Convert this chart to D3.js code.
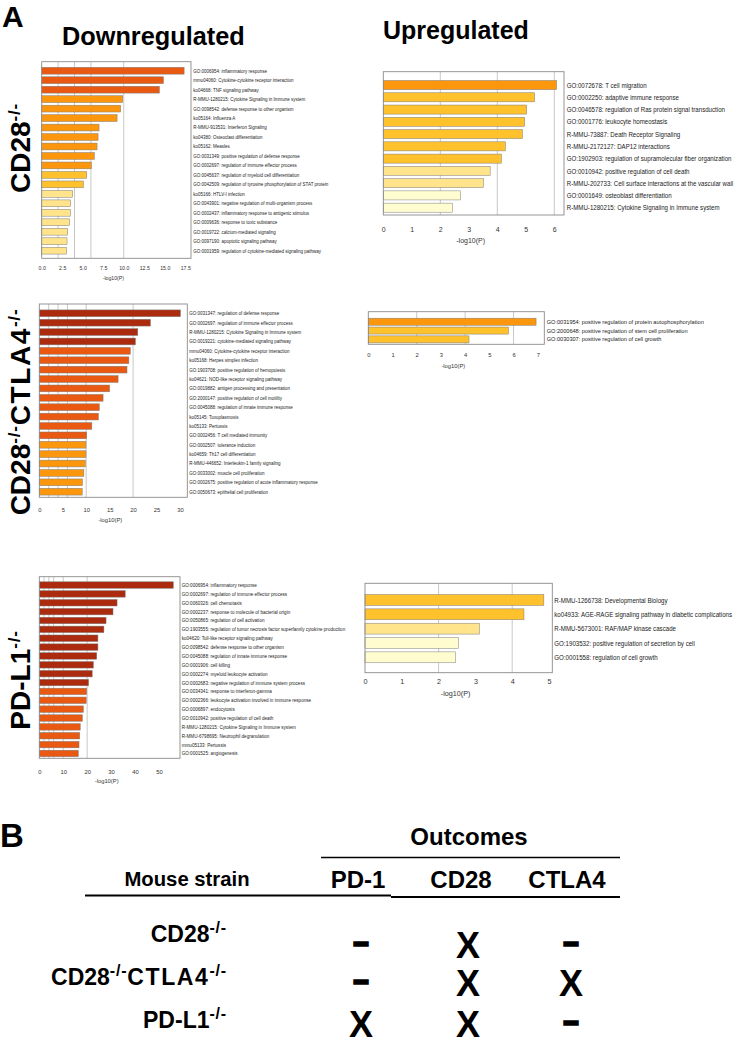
<!DOCTYPE html>
<html><head><meta charset="utf-8">
<script src="https://cdn.jsdelivr.net/npm/d3@7"></script>
<style>body{margin:0;background:#fff}svg{display:block}text{font-family:"Liberation Sans",Arial,Helvetica,sans-serif}</style>
</head><body><svg id="c" width="737" height="1039"></svg>
<script>
// ---------------- DATA ----------------
const cd28DownTerms = ["GO:0006954: inflammatory response","mmu04060: Cytokine-cytokine receptor interaction","ko04668: TNF signaling pathway","R-MMU-1280215: Cytokine Signaling in Immune system","GO:0098542: defense response to other organism","ko05164: Influenza A","R-MMU-913531: Interferon Signaling","ko04380: Osteoclast differentiation","ko05162: Measles","GO:0031349: positive regulation of defense response","GO:0002697: regulation of immune effector process","GO:0045637: regulation of myeloid cell differentiation","GO:0042509: regulation of tyrosine phosphorylation of STAT protein","ko05166: HTLV-I infection","GO:0043901: negative regulation of multi-organism process","GO:0002437: inflammatory response to antigenic stimulus","GO:0009636: response to toxic substance","GO:0019722: calcium-mediated signaling","GO:0097190: apoptotic signaling pathway","GO:0001959: regulation of cytokine-mediated signaling pathway"];
const cd28DownValues = [17.36,14.84,14.35,9.88,9.63,9.19,6.99,6.87,6.75,6.42,6.05,5.49,5.08,3.78,3.54,3.50,3.41,3.17,3.09,3.02];

const cd28UpTerms = ["GO:0072678: T cell migration","GO:0002250: adaptive immune response","GO:0046578: regulation of Ras protein signal transduction","GO:0001776: leukocyte homeostasis","R-MMU-73887: Death Receptor Signaling","R-MMU-2172127: DAP12 interactions","GO:1902903: regulation of supramolecular fiber organization","GO:0010942: positive regulation of cell death","R-MMU-202733: Cell surface interactions at the vascular wall","GO:0001649: osteoblast differentiation","R-MMU-1280215: Cytokine Signaling in Immune system"];
const cd28UpValues = [6.08,5.31,5.03,4.96,4.88,4.28,4.14,3.75,3.52,2.71,2.42];

const dkoDownTerms = ["GO:0031347: regulation of defense response","GO:0002697: regulation of immune effector process","R-MMU-1280215: Cytokine Signaling in Immune system","GO:0019221: cytokine-mediated signaling pathway","mmu04060: Cytokine-cytokine receptor interaction","ko05168: Herpes simplex infection","GO:1903708: positive regulation of hemopoiesis","ko04621: NOD-like receptor signaling pathway","GO:0019882: antigen processing and presentation","GO:2000147: positive regulation of cell motility","GO:0045088: regulation of innate immune response","ko05145: Toxoplasmosis","ko05133: Pertussis","GO:0002456: T cell mediated immunity","GO:0002507: tolerance induction","ko04659: Th17 cell differentiation","R-MMU-446652: Interleukin-1 family signaling","GO:0033002: muscle cell proliferation","GO:0002675: positive regulation of acute inflammatory response","GO:0050673: epithelial cell proliferation"];
const dkoDownValues = [30.1,23.7,21.0,20.5,19.4,19.1,18.7,16.8,15.0,13.6,12.8,12.6,11.2,10.1,9.95,9.95,9.8,9.5,9.2,9.15];

const dkoUpTerms = ["GO:0031954: positive regulation of protein autophosphorylation","GO:2000648: positive regulation of stem cell proliferation","GO:0030307: positive regulation of cell growth"];
const dkoUpValues = [6.93,5.79,4.16];

const pdl1DownTerms = ["GO:0006954: inflammatory response","GO:0002697: regulation of immune effector process","GO:0060326: cell chemotaxis","GO:0002237: response to molecule of bacterial origin","GO:0050865: regulation of cell activation","GO:1903555: regulation of tumor necrosis factor superfamily cytokine production","ko04620: Toll-like receptor signaling pathway","GO:0098542: defense response to other organism","GO:0045088: regulation of innate immune response","GO:0001906: cell killing","GO:0002274: myeloid leukocyte activation","GO:0002683: negative regulation of immune system process","GO:0034341: response to interferon-gamma","GO:0002366: leukocyte activation involved in immune response","GO:0006897: endocytosis","GO:0010942: positive regulation of cell death","R-MMU-1280215: Cytokine Signaling in Immune system","R-MMU-6798695: Neutrophil degranulation","mmu05133: Pertussis","GO:0001525: angiogenesis"];
const pdl1DownValues = [56.0,35.9,32.5,30.8,27.9,27.0,24.5,24.5,24.0,22.6,22.1,20.6,19.8,19.6,18.4,18.0,17.1,16.9,16.6,16.3];

const pdl1UpTerms = ["R-MMU-1266738: Developmental Biology","ko04933: AGE-RAGE signaling pathway in diabetic complications","R-MMU-5673001: RAF/MAP kinase cascade","GO:1903532: positive regulation of secretion by cell","GO:0001558: regulation of cell growth"];
const pdl1UpValues = [4.86,4.32,3.11,2.54,2.46];

const ticks1 = [0,2.5,5,7.5,10,12.5,15,17.5];
const ticks2 = [0,1,2,3,4,5,6];
const ticks3 = [0,5,10,15,20,25,30];
const ticks4 = [0,1,2,3,4,5,6,7];
const ticks5 = [0,10,20,30,40,50];
const ticks6 = [0,1,2,3,4,5];

const gridValues = [2,4,6,10,20];
const colorBreaks = [3,4,6,10,20];
const binColors = ["#FFFDD0","#FFE48C","#FFC12C","#FC970D","#EA5911","#AC2A0E"];

const strains = [[{t:"CD28"},{t:"-/-",sup:true}],[{t:"CD28"},{t:"-/-",sup:true},{t:"CTLA4",ls:1.6},{t:"-/-",sup:true}],[{t:"PD-L1"},{t:"-/-",sup:true}]];
const outcomes = ["PD-1","CD28","CTLA4"];
const marks = [["-","X","-"],["-","X","X"],["X","X","-"]];

// ---------------- DRAW ----------------
const svg = d3.select("#c");
const color = d3.scaleThreshold().domain(colorBreaks).range(binColors);

function rich(t, parts, supSize, rise){
  let up=false;
  parts.forEach(p=>{
    const s=t.append("tspan").text(p.t);
    if(p.ls) s.attr("letter-spacing",p.ls);
    if(p.sup){s.attr("font-size",supSize).attr("dy",-rise).attr("letter-spacing",0.8);up=true;}
    else if(up){s.attr("dy",rise);up=false;}
  });
}

const panels = [
 {terms:cd28DownTerms,values:cd28DownValues,x0:41.7,x1:191,y0:61.7,y1:258.3,max:18.2,b0:66,b1:255.4,pad:0.28,lx:193.3,ls:5.5,cond:0.82,ticks:ticks1,fmt:d3.format(".1f"),ts:5.2,ty:268.3,tty:277.7},
 {terms:cd28UpTerms,values:cd28UpValues,x0:383.3,x1:564,y0:71.7,y1:215,max:6.34,b0:78.9,b1:213.8,pad:0.26,lx:566.7,ls:7.5,cond:0.82,ticks:ticks2,fmt:d3.format("d"),ts:7,ty:229.5,tty:241},
 {terms:dkoDownTerms,values:dkoDownValues,x0:39.3,x1:187.3,y0:304,y1:497.3,max:31.56,b0:308.6,b1:496.4,pad:0.28,lx:189.3,ls:5.5,cond:0.82,ticks:ticks3,fmt:d3.format("d"),ts:5.8,ty:510,tty:520},
 {terms:dkoUpTerms,values:dkoUpValues,x0:368.3,x1:544.3,y0:311.7,y1:344.3,max:7.27,b0:317.3,b1:343.8,pad:0.2,lx:546.7,ls:5.6,cond:1,ticks:ticks4,fmt:d3.format("d"),ts:5.8,ty:355,tty:365.7},
 {terms:pdl1DownTerms,values:pdl1DownValues,x0:39.3,x1:180,y0:576.7,y1:758.3,max:58.8,b0:580.6,b1:757.9,pad:0.27,lx:181.7,ls:5.6,cond:0.82,ticks:ticks5,fmt:d3.format("d"),ts:5.8,ty:771.7,tty:781},
 {terms:pdl1UpTerms,values:pdl1UpValues,x0:365,x1:552.3,y0:583.3,y1:672.7,max:5.09,b0:592.8,b1:664.5,pad:0.24,lx:554.3,ls:7.5,cond:0.82,ticks:ticks6,fmt:d3.format("d"),ts:7.2,ty:681.7,tty:693}
];

panels.forEach(p=>{
  const g=svg.append("g");
  const x=d3.scaleLinear().domain([0,p.max]).range([p.x0,p.x1]);
  const y=d3.scaleBand().domain(p.terms).range([p.b0,p.b1]).paddingInner(p.pad).paddingOuter(p.pad/2);
  g.append("rect").attr("x",p.x0).attr("y",p.y0).attr("width",p.x1-p.x0).attr("height",p.y1-p.y0).attr("fill","#fff");
  g.selectAll("line.grid").data(gridValues.filter(v=>v<p.max)).join("line").attr("class","grid")
    .attr("x1",d=>x(d)).attr("x2",d=>x(d)).attr("y1",p.y0).attr("y2",p.y1)
    .attr("stroke","#c8c8c8").attr("stroke-width",1);
  g.selectAll("rect.bar").data(p.terms).join("rect").attr("class","bar")
    .attr("x",x(0)).attr("y",d=>y(d)).attr("height",y.bandwidth())
    .attr("width",(d,i)=>x(p.values[i])-x(0))
    .attr("fill",(d,i)=>color(p.values[i])).attr("stroke","#7d7d7d").attr("stroke-width",0.5);
  g.append("rect").attr("x",p.x0).attr("y",p.y0).attr("width",p.x1-p.x0).attr("height",p.y1-p.y0)
    .attr("fill","none").attr("stroke","#8a8a8a").attr("stroke-width",0.9);
  g.selectAll("text.lab").data(p.terms).join("text").attr("class","lab")
    .attr("transform",d=>`translate(${p.lx},${y(d)+y.bandwidth()/2}) scale(${p.cond},1)`)
    .attr("x",0).attr("y",0).attr("dy","0.35em")
    .attr("font-size",p.ls).attr("fill","#222").text(d=>d);
  const ax=d3.axisBottom(x).tickValues(p.ticks).tickFormat(p.fmt).tickSize(0).tickPadding(0);
  const ag=g.append("g").attr("transform",`translate(0,${p.ty})`).call(ax);
  ag.select(".domain").remove();
  ag.selectAll("text").attr("y",0).attr("dy","0.35em").attr("font-size",p.ts).attr("fill","#333")
    .attr("font-family","Liberation Sans, Arial, sans-serif");
  g.append("text").attr("x",(p.x0+p.x1)/2-3).attr("y",p.tty).attr("dy","0.35em").attr("text-anchor","middle")
    .attr("font-size",p.ts).attr("fill","#333").text("-log10(P)");
});

// titles
svg.append("text").attr("x",2).attr("y",27).attr("font-size",30).attr("font-weight","bold").text("A");
svg.append("text").attr("x",62).attr("y",45).attr("font-size",25.3).attr("font-weight","bold").text("Downregulated");
svg.append("text").attr("x",383).attr("y",39).attr("font-size",25).attr("font-weight","bold").text("Upregulated");

// rotated row labels
[[148,0],[412,1],[680,2]].forEach(([cy,i])=>{
  const t=svg.append("text").attr("transform",`translate(30,${cy}) rotate(-90)`).attr("text-anchor","middle")
    .attr("font-size",28).attr("font-weight","bold");
  rich(t,strains[i],17,10);
});

// ---------------- PART B ----------------
svg.append("text").attr("x",0).attr("y",847).attr("font-size",33).attr("font-weight","bold").text("B");
svg.append("text").attr("x",469).attr("y",845).attr("text-anchor","middle").attr("font-size",24).attr("font-weight","bold").text("Outcomes");
svg.append("line").attr("x1",321).attr("x2",620).attr("y1",857.5).attr("y2",857.5).attr("stroke","#000").attr("stroke-width",1.6);
svg.append("text").attr("x",187).attr("y",886).attr("text-anchor","middle").attr("font-size",20.3).attr("font-weight","bold").text("Mouse strain");
const hdrX=[358,461,567];
svg.selectAll("text.hdr").data(outcomes).join("text").attr("class","hdr")
  .attr("x",(d,i)=>hdrX[i]).attr("y",888).attr("text-anchor","middle").attr("font-size",24).attr("font-weight","bold").text(d=>d);
svg.append("line").attr("x1",85).attr("x2",391).attr("y1",895.5).attr("y2",895.5).attr("stroke","#000").attr("stroke-width",2);
svg.append("line").attr("x1",391).attr("x2",620).attr("y1",897).attr("y2",897).attr("stroke","#000").attr("stroke-width",2);

const rowBase=[942,985,1028];
const markCenters=[944.5,982.5,1023.5];
const markX=[361,468,571];
strains.forEach((s,i)=>{
  const t=svg.append("text").attr("x",227).attr("y",rowBase[i]).attr("text-anchor","end").attr("font-size",23).attr("font-weight","bold");
  rich(t,s,16,9);
  marks[i].forEach((m,j)=>{
    if(m==="X"){
      svg.append("text").attr("x",markX[j]).attr("y",markCenters[i]+13).attr("text-anchor","middle")
        .attr("font-size",36).attr("font-weight","bold").text("X");
    } else {
      svg.append("text").attr("x",markX[j]).attr("y",markCenters[i]+8.8).attr("text-anchor","middle")
        .attr("font-size",34).attr("font-weight","bold").attr("stroke","#000").attr("stroke-width",1.4)
        .attr("textLength",17.5).attr("lengthAdjust","spacingAndGlyphs").text("-");
    }
  });
});
</script></body></html>
